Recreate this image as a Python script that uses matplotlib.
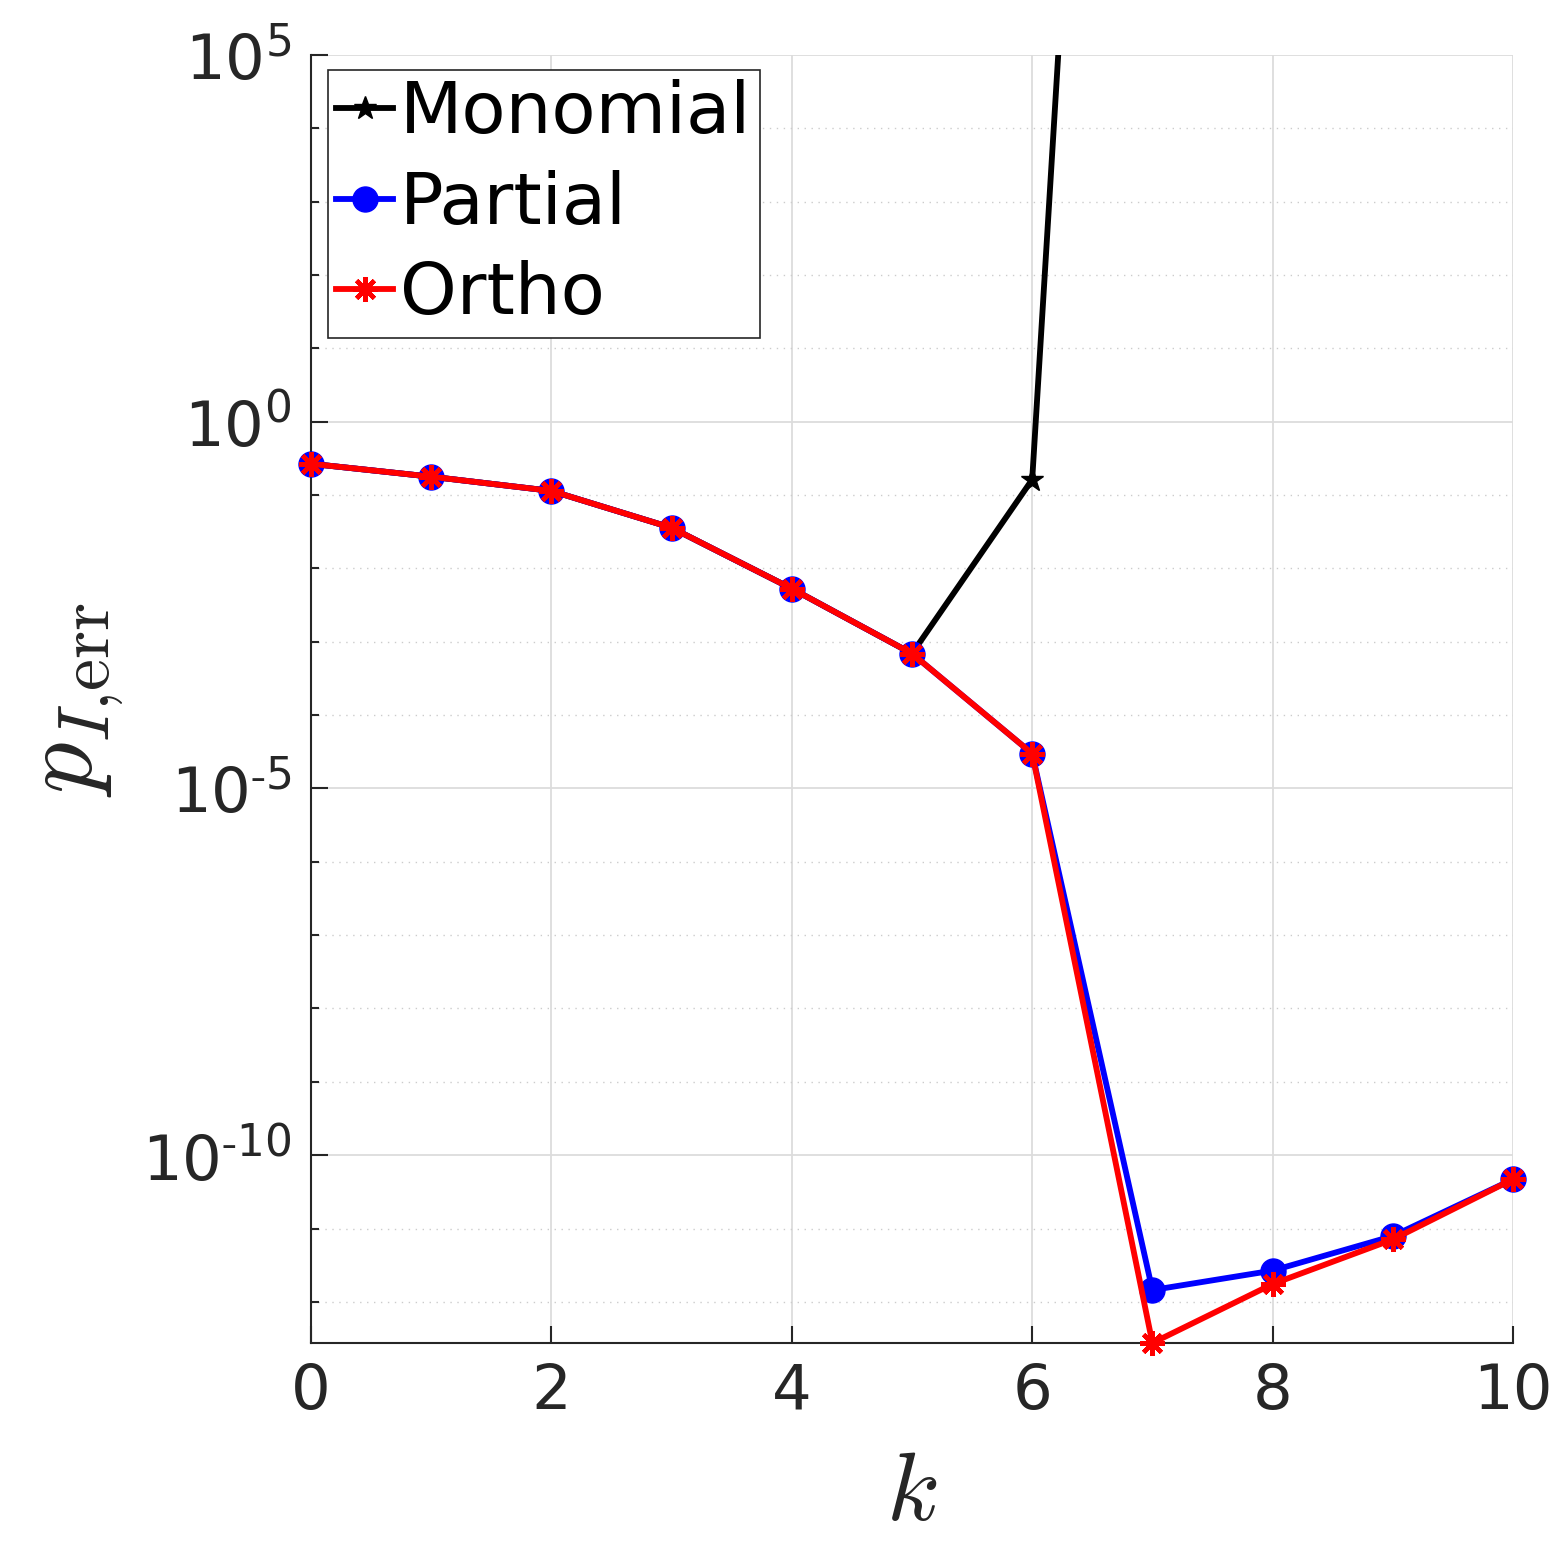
import matplotlib
matplotlib.use("Agg")
import math
import matplotlib.pyplot as plt
import matplotlib.ticker as mticker

plt.rcParams['font.family'] = ['DejaVu Sans']
plt.rcParams['mathtext.fontset'] = 'cm'
plt.rcParams['axes.unicode_minus'] = False

k = [0, 1, 2, 3, 4, 5, 6, 7, 8, 9, 10]
monomial = [0.267, 0.178, 0.114, 0.0358, 5.3e-3, 6.9e-4, 0.163, 9e25, 1e40, 1e55, 1e70]
partial = [0.267, 0.178, 0.114, 0.0358, 5.3e-3, 6.9e-4, 2.99e-5, 1.45e-12, 2.67e-12, 7.9e-12, 4.7e-11]
ortho = [0.267, 0.178, 0.114, 0.0358, 5.3e-3, 6.9e-4, 2.99e-5, 2.75e-13, 1.75e-12, 7.1e-12, 4.7e-11]

xticks = [0, 2, 4, 6, 8, 10]
yticks = [1e-10, 1e-5, 1e0, 1e5]

fig = plt.figure(figsize=(15.63, 15.63), dpi=100)
ax = fig.add_axes([311/1563, 1 - 1343/1563, (1513-311)/1563, (1343-55)/1563])

asterisk = (8, 2, 0)
lw = 4.2
ax.plot(k, monomial, color='black', lw=lw, marker='*', ms=17, label='Monomial', zorder=3)
ax.plot(k, partial, color='blue', lw=lw, marker='o', ms=18, label='Partial', zorder=4, clip_on=False)
ax.plot(k, ortho, color='red', lw=lw, marker=asterisk, ms=18, mew=3.2, label='Ortho', zorder=5, clip_on=False)

ax.set_yscale('log')
ax.set_xlim(0, 10)
ax.set_ylim(min(ortho), 1e5)
ax.set_xticks(xticks)
ax.set_yticks(yticks)
ax.yaxis.set_minor_locator(mticker.LogLocator(base=10, subs=(1.0,), numticks=50))
ax.yaxis.set_minor_formatter(mticker.NullFormatter())

def yfmt(v, pos):
    e = int(round(math.log10(v)))
    if e < 0:
        return r'$\mathregular{10^{\text{-}%d}}$' % (-e)
    return r'$\mathregular{10^{%d}}$' % e
ax.yaxis.set_major_formatter(mticker.FuncFormatter(yfmt))

tc = '#262626'
ax.tick_params(axis='both', which='major', direction='in', length=12, width=1.5,
               labelsize=45, colors=tc, pad=14)
ax.tick_params(axis='y', which='minor', direction='in', length=6, width=1.5, colors=tc)
ax.tick_params(axis='x', which='minor', bottom=False)

for s in ['top', 'right']:
    ax.spines[s].set_visible(False)
for s in ['left', 'bottom']:
    ax.spines[s].set_color(tc)
    ax.spines[s].set_linewidth(1.5)

ax.grid(True, which='major', color='#dcdcdc', lw=1.3, ls='-')
ax.grid(True, which='minor', axis='y', color='#cccccc', lw=1.0, ls=(0, (1, 4)))
ax.set_axisbelow(True)

ax.set_xlabel(r'$k$', fontsize=70, labelpad=18, color=tc)
ax.set_ylabel(r'$p_{I{,}\mathrm{err}}$', fontsize=74, labelpad=12, color=tc)

leg = ax.legend(loc='upper left', bbox_to_anchor=(0.014, 0.988), borderaxespad=0,
                fontsize=52, frameon=True, fancybox=False, framealpha=1,
                edgecolor=tc, handlelength=0.78, handletextpad=0.1,
                borderpad=0.12, labelspacing=0.3, markerscale=1.0)
leg.get_frame().set_linewidth(1.2)

fig.savefig('out.png', dpi=100)
